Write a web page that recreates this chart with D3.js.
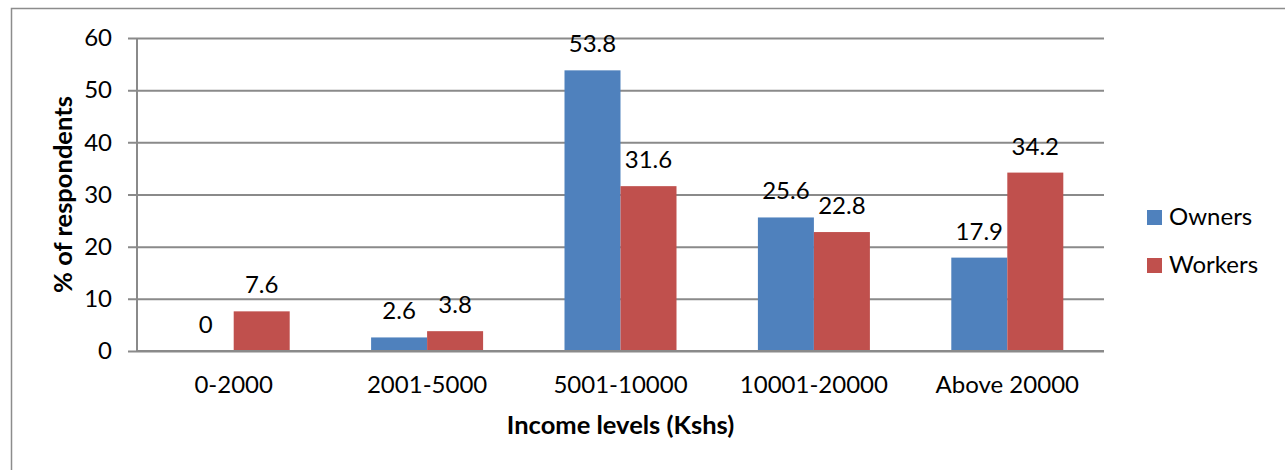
<!DOCTYPE html>
<html>
<head>
<meta charset="utf-8">
<script src="https://cdn.jsdelivr.net/npm/d3@7"></script>
<style>
  html, body { margin: 0; padding: 0; background: #fff; }
  svg { display: block; }
  text { font-family: Lato, "Open Sans", sans-serif; fill: #000; }
</style>
</head>
<body>
<svg id="chart" width="1285" height="470"></svg>
<script>
// Income bands and share of respondents (%) per group
const categories = ["0-2000", "2001-5000", "5001-10000", "10001-20000", "Above 20000"];
const seriesNames = ["Owners", "Workers"];
const owners = [0, 2.6, 53.8, 25.6, 17.9];
const workers = [7.6, 3.8, 31.6, 22.8, 34.2];
const yTicks = [0, 10, 20, 30, 40, 50, 60];
const colors = ["#4F81BD", "#C0504D"];

const svg = d3.select("#chart");
const W = 1285, H = 470;
const plot = { left: 137, right: 1104, top: 38, bottom: 351 };
const fs = 24;

// Outer frame (cut off at right and bottom)
svg.append("path")
  .attr("d", `M11.5,${H + 2} L11.5,8.5 L${W + 2},8.5`)
  .attr("fill", "none").attr("stroke", "#8c8c8c").attr("stroke-width", 1.5);

const x = d3.scaleBand().domain(categories).range([plot.left, plot.right]).paddingInner(0).paddingOuter(0);
const groupW = 112;
const xs = d3.scaleBand().domain(seriesNames).range([0, groupW]).padding(0);
const y = d3.scaleLinear().domain([0, 60]).range([plot.bottom, plot.top]);

// Horizontal gridlines with ticks protruding left of the axis
const yAxis = d3.axisLeft(y).tickValues(yTicks).tickSize(plot.right - plot.left + 9).tickPadding(16).tickSizeOuter(0);
const gy = svg.append("g").attr("transform", `translate(${plot.right},0)`).call(yAxis);
gy.select(".domain").remove();
gy.selectAll(".tick line").attr("stroke", "#8a8a8a").attr("stroke-width", 2);
gy.selectAll(".tick text").attr("font-size", fs).attr("fill", "#000")
  .attr("font-family", "Lato, 'Open Sans', sans-serif");

// Vertical axis line
svg.append("line")
  .attr("x1", plot.left).attr("x2", plot.left)
  .attr("y1", plot.top).attr("y2", plot.bottom)
  .attr("stroke", "#8a8a8a").attr("stroke-width", 2);

// Bars
const data = categories.map((c, i) => ({ cat: c, vals: [owners[i], workers[i]] }));
const groups = svg.append("g").selectAll("g").data(data).join("g")
  .attr("transform", d => `translate(${x(d.cat) + x.bandwidth() / 2 - groupW / 2},0)`);

groups.selectAll("rect").data(d => d.vals.map((v, k) => ({ v, k })))
  .join("rect")
  .attr("x", d => xs(seriesNames[d.k]))
  .attr("width", xs.bandwidth())
  .attr("y", d => y(d.v))
  .attr("height", d => y(0) - y(d.v))
  .attr("fill", d => colors[d.k]);

groups.selectAll("text.val").data(d => d.vals.map((v, k) => ({ v, k })))
  .join("text").attr("class", "val")
  .attr("x", d => xs(seriesNames[d.k]) + xs.bandwidth() / 2)
  .attr("y", d => y(d.v) - 18)
  .attr("text-anchor", "middle")
  .attr("font-size", fs)
  .text(d => d.v);

// x-axis baseline
svg.append("line")
  .attr("x1", plot.left).attr("x2", plot.right)
  .attr("y1", plot.bottom).attr("y2", plot.bottom)
  .attr("stroke", "#8a8a8a").attr("stroke-width", 2);

// Category labels
svg.append("g").selectAll("text").data(categories).join("text")
  .attr("x", d => x(d) + x.bandwidth() / 2)
  .attr("y", 393)
  .attr("text-anchor", "middle")
  .attr("font-size", fs)
  .text(d => d);

// Axis titles
svg.append("text")
  .attr("x", (plot.left + plot.right) / 2).attr("y", 434)
  .attr("text-anchor", "middle").attr("font-size", 25.5).attr("font-weight", "bold")
  .text("Income levels (Kshs)");

svg.append("text")
  .attr("transform", `translate(72,${(plot.top + plot.bottom) / 2}) rotate(-90)`)
  .attr("text-anchor", "middle").attr("font-size", 25.5).attr("font-weight", "bold")
  .text("% of respondents");

// Legend
const legend = svg.append("g").selectAll("g").data(seriesNames).join("g")
  .attr("transform", (d, i) => `translate(1147,${210 + i * 48})`);
legend.append("rect").attr("width", 15).attr("height", 15).attr("fill", (d, i) => colors[i]);
legend.append("text").attr("x", 22).attr("y", 15).attr("font-size", fs).text(d => d);
</script>
</body>
</html>
